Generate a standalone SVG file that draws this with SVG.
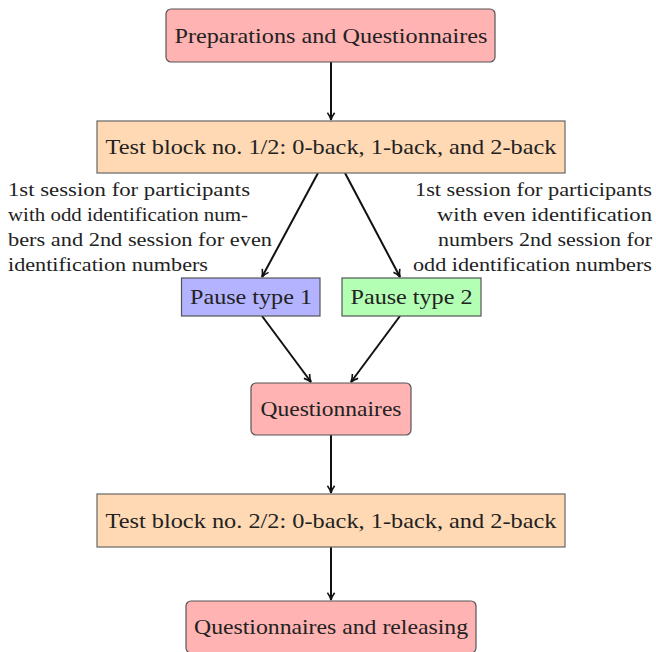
<svg xmlns="http://www.w3.org/2000/svg" width="656" height="652" viewBox="0 0 656 652">
<style>
.n{font-size:21px;text-anchor:middle;dominant-baseline:central;}
.l{font-size:18.5px;}
.r{font-size:18.5px;text-anchor:end;}
.red{fill:#ffb3b3;stroke:#555;stroke-width:1.2;}
.org{fill:#ffd9b3;stroke:#666;stroke-width:1.2;}
.blu{fill:#b3b3ff;stroke:#555;stroke-width:1.2;}
.grn{fill:#b3ffb3;stroke:#555;stroke-width:1.2;}
.c{stroke:#111;stroke-width:2;fill:none;marker-end:url(#ah);}
</style>
<defs>
<marker id="ah" viewBox="0 0 10 10" refX="9" refY="5" markerWidth="9" markerHeight="9" markerUnits="userSpaceOnUse" orient="auto">
<path d="M1,1 Q5,4 9,5 Q5,6 1,9" fill="none" stroke="#111" stroke-width="1.8"/>
</marker>
</defs>
<rect width="656" height="652" fill="#fff"/>
<g id="connectors">
<line class="c" x1="331" y1="62" x2="331" y2="120"/>
<line class="c" x1="318" y1="173" x2="262" y2="277"/>
<line class="c" x1="345" y1="173" x2="400" y2="277"/>
<line class="c" x1="262" y1="316" x2="311" y2="382"/>
<line class="c" x1="400" y1="316" x2="351" y2="382"/>
<line class="c" x1="331" y1="435" x2="331" y2="493"/>
<line class="c" x1="331" y1="547" x2="331" y2="600"/>
</g>
<g font-family="'Liberation Serif', 'Times New Roman', 'DejaVu Serif', serif" fill="#222">
<g id="n1"><rect class="red" x="166" y="9" width="329" height="53" rx="5"/><text class="n" x="331" y="35.5" textLength="313" lengthAdjust="spacingAndGlyphs">Preparations and Questionnaires</text></g>
<g id="n2"><rect class="org" x="97" y="121" width="468" height="52"/><text class="n" x="331" y="147" textLength="451" lengthAdjust="spacingAndGlyphs">Test block no. 1/2: 0-back, 1-back, and 2-back</text></g>
<g id="label-left">
<text class="l" x="8" y="196" textLength="242" lengthAdjust="spacingAndGlyphs">1st session for participants</text>
<text class="l" x="8" y="221" textLength="240" lengthAdjust="spacingAndGlyphs">with odd identification num-</text>
<text class="l" x="8" y="246" textLength="264" lengthAdjust="spacingAndGlyphs">bers and 2nd session for even</text>
<text class="l" x="8" y="271" textLength="200" lengthAdjust="spacingAndGlyphs">identification numbers</text>
</g>
<g id="label-right">
<text class="r" x="652" y="196" textLength="237" lengthAdjust="spacingAndGlyphs">1st session for participants</text>
<text class="r" x="652" y="221" textLength="215" lengthAdjust="spacingAndGlyphs">with even identification</text>
<text class="r" x="652" y="246" textLength="214" lengthAdjust="spacingAndGlyphs">numbers 2nd session for</text>
<text class="r" x="652" y="271" textLength="239" lengthAdjust="spacingAndGlyphs">odd identification numbers</text>
</g>
<g id="n3"><rect class="blu" x="181.5" y="278" width="138.5" height="38"/><text class="n" x="251" y="297" textLength="122" lengthAdjust="spacingAndGlyphs">Pause type 1</text></g>
<g id="n4"><rect class="grn" x="342" y="278" width="139" height="38"/><text class="n" x="411.5" y="297" textLength="122" lengthAdjust="spacingAndGlyphs">Pause type 2</text></g>
<g id="n5"><rect class="red" x="251" y="383" width="160" height="52" rx="5"/><text class="n" x="331" y="409" textLength="141" lengthAdjust="spacingAndGlyphs">Questionnaires</text></g>
<g id="n6"><rect class="org" x="97" y="494" width="468" height="53"/><text class="n" x="331" y="520.5" textLength="451" lengthAdjust="spacingAndGlyphs">Test block no. 2/2: 0-back, 1-back, and 2-back</text></g>
<g id="n7"><rect class="red" x="186" y="601" width="290" height="52" rx="5"/><text class="n" x="331" y="627" textLength="274" lengthAdjust="spacingAndGlyphs">Questionnaires and releasing</text></g>
</g>
</svg>
